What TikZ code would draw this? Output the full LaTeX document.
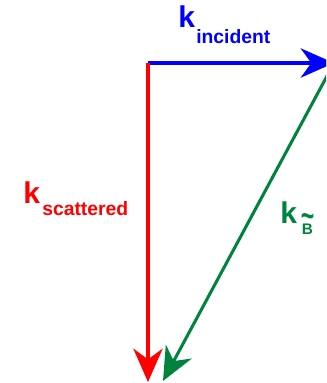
\documentclass[tikz,border=0pt]{standalone}
\usepackage{fontspec}
\setmainfont{Liberation Sans}
\usetikzlibrary{arrows.meta}
\definecolor{kblue}{RGB}{0,0,255}
\definecolor{kred}{RGB}{255,0,0}
\definecolor{kgreen}{RGB}{0,132,61}
\begin{document}
\begin{tikzpicture}[x=0.75pt,y=-0.75pt,
  vec/.style={line width=2.3pt,-{Stealth[length=25pt,width=22pt,inset=8pt]}},
  bigk/.style={inner sep=0pt,anchor=base west,font=\fontsize{22.5}{22.5}\selectfont\bfseries},
  subk/.style={inner sep=0pt,anchor=base west,font=\fontsize{14.5}{14.5}\selectfont\bfseries}]
\useasboundingbox (0,0) rectangle (326,383);
\clip (0,0) rectangle (326,383);
\coordinate (O) at (148,63);
\coordinate (T) at (334,63);
\coordinate (R) at (148,382);
\coordinate (G) at (163,381);
\draw[vec,kblue] (O) -- (T);
\draw[vec,kred] (O) -- (R);
\draw[vec,kgreen] (T) -- (G);
\node[bigk,text=kblue] (ki) at (178,27) {k};
\node[subk,text=kblue] (kis) at (196,43) {incident};
\node[bigk,text=kred] (ks) at (23,203) {k};
\node[subk,text=kred] (kss) at (42,215) {scattered};
\node[bigk,text=kgreen] (kb) at (280,223) {k};
\node[inner sep=0pt,anchor=base,text=kgreen,font=\fontsize{11.5}{11.5}\selectfont\bfseries] (kbB) at (307.5,234)
  {\raisebox{5pt}[0pt][0pt]{\makebox[0pt][l]{\makebox[8.3pt][c]{\scalebox{1.15}[1.7]{\fontsize{15}{15}\selectfont\textasciitilde}}}}B};
\end{tikzpicture}
\end{document}
